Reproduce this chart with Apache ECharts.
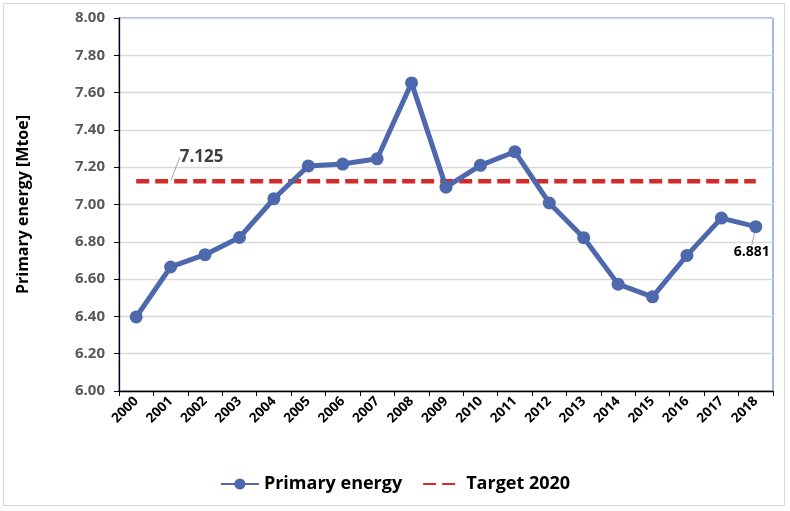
<!DOCTYPE html>
<html><head><meta charset="utf-8">
<script src="https://cdn.jsdelivr.net/npm/echarts@6/dist/echarts.min.js"></script>
<style>
html,body{margin:0;padding:0;background:#fff;}
#wrap{position:absolute;left:3px;top:3px;width:782px;height:503px;border:1px solid #d9d9d9;box-sizing:border-box;}
#c{position:absolute;left:0;top:0;width:790px;height:511px;}
</style></head>
<body><div id="wrap"></div><div id="c"></div>
<script>
const years = ['2000','2001','2002','2003','2004','2005','2006','2007','2008','2009','2010','2011','2012','2013','2014','2015','2016','2017','2018'];
const primaryEnergy = [6.397,6.665,6.731,6.823,7.031,7.207,7.217,7.245,7.652,7.093,7.210,7.283,7.008,6.822,6.573,6.505,6.727,6.927,6.881];
const target2020 = [7.125,7.125,7.125,7.125,7.125,7.125,7.125,7.125,7.125,7.125,7.125,7.125,7.125,7.125,7.125,7.125,7.125,7.125,7.125];
const yTicks = {min:6, max:8, step:0.2};
const targetLabelIndex = 1;
const energyLabelIndex = years.length - 1;

const fam = '"Open Sans", sans-serif';
const guide = {show:true,lineStyle:{color:'#a6a6a6',width:1}};

const targetData = target2020.map((v,i)=> i===targetLabelIndex ? {
  value:v,
  label:{show:true,position:'top',formatter:p=>p.value.toFixed(3),fontSize:17,fontWeight:'bold',color:'#404040',fontFamily:fam},
  labelLine:guide
} : v);
const energyData = primaryEnergy.map((v,i)=> i===energyLabelIndex ? {
  value:v,
  label:{show:true,position:'bottom',formatter:p=>p.value.toFixed(3),fontSize:14,fontWeight:'bold',color:'#000',fontFamily:fam},
  labelLine:guide
} : v);

const chart = echarts.init(document.getElementById('c'));
chart.setOption({
  animation:false,
  textStyle:{fontFamily:fam},
  grid:{left:119,right:17,top:18,bottom:120,show:true,borderColor:'#4472c4',borderWidth:1,backgroundColor:'transparent'},
  legend:{
    bottom:13,left:'center',itemGap:20,itemWidth:38,itemHeight:14,
    textStyle:{fontSize:18,fontWeight:'bold',color:'#000',fontFamily:fam},
    data:[{name:'Primary energy'},{name:'Target 2020',itemStyle:{opacity:0}}]
  },
  xAxis:{
    type:'category',data:years,boundaryGap:true,
    axisLine:{lineStyle:{color:'#000',width:1.3}},
    axisTick:{show:true,length:5,lineStyle:{color:'#000'}},
    axisLabel:{rotate:45,fontSize:13.5,fontWeight:'bold',color:'#000',margin:8,interval:0,fontFamily:fam},
    splitLine:{show:false}
  },
  yAxis:{
    type:'value',min:yTicks.min,max:yTicks.max,interval:yTicks.step,
    name:'Primary energy [Mtoe]',nameLocation:'middle',nameGap:88,
    nameTextStyle:{fontSize:16,fontWeight:'bold',color:'#000',fontFamily:fam},
    axisLine:{show:true,lineStyle:{color:'#000',width:1.3}},
    axisTick:{show:true,length:5,lineStyle:{color:'#000'}},
    axisLabel:{fontSize:15,fontWeight:'bold',color:'#595959',margin:14,formatter:v=>v.toFixed(2),fontFamily:fam},
    splitLine:{lineStyle:{color:'#d9d9d9',width:1.3}}
  },
  series:[
    {
      name:'Target 2020',type:'line',data:targetData,symbol:'circle',symbolSize:1,z:3,
      lineStyle:{color:'#d42a2a',width:4.5,type:[13,6]},
      itemStyle:{color:'rgba(0,0,0,0)'},
      emphasis:{disabled:true},
      labelLayout:function(p){ return p.dataIndex===targetLabelIndex ? {dx:31,dy:-10} : {}; }
    },
    {
      name:'Primary energy',type:'line',data:energyData,symbol:'circle',symbolSize:13,z:4,
      lineStyle:{color:'#4e68ae',width:5},
      itemStyle:{color:'#4e68ae'},
      labelLayout:function(p){ return p.dataIndex===energyLabelIndex ? {dx:-4,dy:7} : {}; }
    }
  ]
});
</script></body></html>
